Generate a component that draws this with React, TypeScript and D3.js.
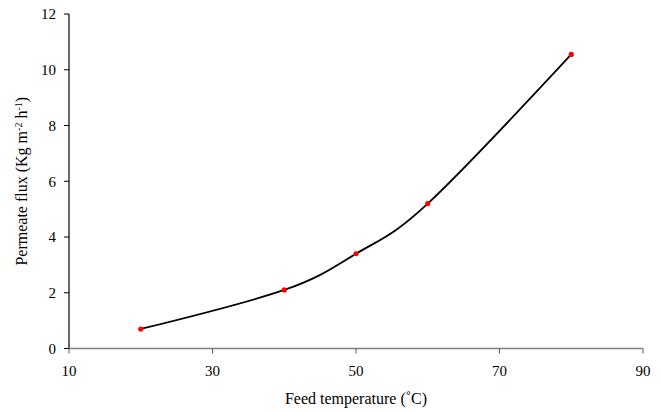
import React from "react";
import * as d3 from "d3";

const temps = [20, 40, 50, 60, 80];
const flux = [0.7, 2.1, 3.4, 5.2, 10.55];
const xTicks = [10, 30, 50, 70, 90];
const yTicks = [0, 2, 4, 6, 8, 10, 12];

export default function App() {
  const W = 661, H = 412;
  const x = d3.scaleLinear().domain([10, 90]).range([69, 643]);
  const y = d3.scaleLinear().domain([0, 12]).range([348.5, 14]);
  const pts = temps.map((t, i) => [x(t), y(flux[i])] as [number, number]);
  const line = d3.line().curve(d3.curveCardinal.tension(0))(pts) || "";
  const font = "Liberation Serif";
  return (
    <svg width={W} height={H} style={{ position: "absolute", left: 0, top: 0, background: "#fff" }}>
      <g style={{ fontFamily: "Liberation Serif, serif" }}>
        {/* y axis */}
        <line x1={x(10)} x2={x(10)} y1={y(12)} y2={y(0)} stroke="#000" strokeWidth={1.2} />
        {yTicks.map((t) => (
          <g key={t}>
            <line x1={x(10) - 5} x2={x(10)} y1={y(t)} y2={y(t)} stroke="#000" strokeWidth={1} />
            <text x={x(10) - 13} y={y(t)} dy="0.35em" textAnchor="end" fontFamily={font} fontSize={15} fill="#000">{t}</text>
          </g>
        ))}
        {/* x axis */}
        <line x1={x(10)} x2={x(90)} y1={y(0)} y2={y(0)} stroke="#808080" strokeWidth={1.3} />
        {xTicks.map((t) => (
          <g key={t}>
            <line x1={x(t)} x2={x(t)} y1={y(0)} y2={y(0) + 5} stroke="#555" strokeWidth={1} />
            <text x={x(t)} y={y(0) + 27} textAnchor="middle" fontFamily={font} fontSize={15} fill="#000">{t}</text>
          </g>
        ))}
        <path d={line} fill="none" stroke="#000" strokeWidth={1.8} />
        {pts.map((p, i) => (
          <circle key={i} cx={p[0]} cy={p[1]} r={2.6} fill="#ff0000" />
        ))}
        <text x={(x(10) + x(90)) / 2} y={404} textAnchor="middle" fontFamily={font} fontSize={16} fill="#000">Feed temperature (˚C)</text>
        <text transform={`translate(27, ${y(6)}) rotate(-90)`} textAnchor="middle" fontFamily={font} fontSize={16} fill="#000">
          Permeate flux (Kg m<tspan baselineShift="super" fontSize={10}>-2</tspan> h<tspan baselineShift="super" fontSize={10}>-1</tspan>)
        </text>
      </g>
    </svg>
  );
}
